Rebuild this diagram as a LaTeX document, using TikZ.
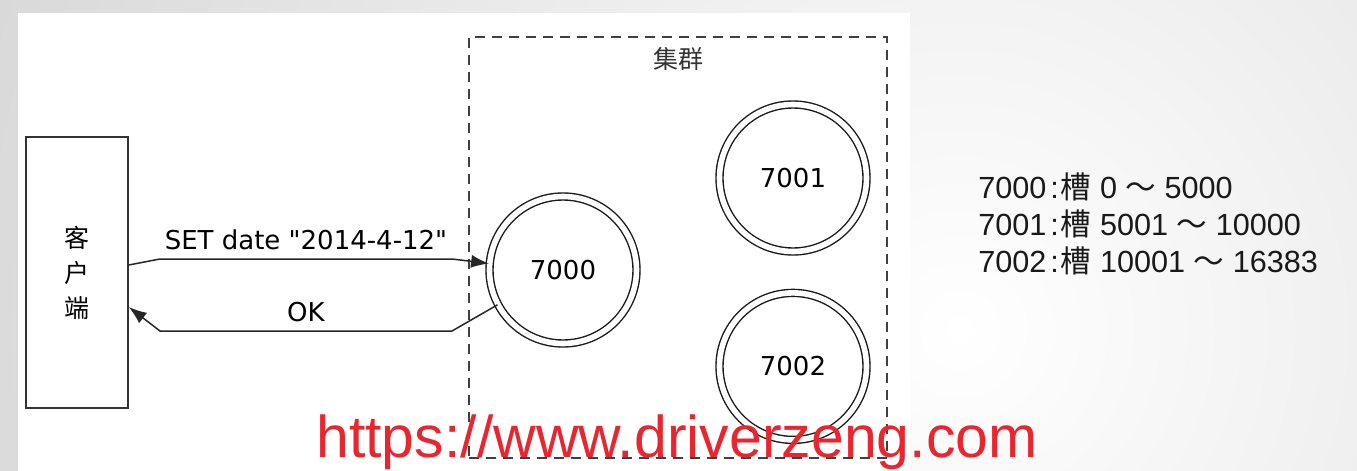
\documentclass[tikz,border=0pt]{standalone}
\usepackage{fontspec}
\setmainfont{DejaVu Sans}
\newfontfamily\cjk{Noto Sans CJK SC}
\newfontfamily\arial{Liberation Sans}
\usepackage{tikz}
\usetikzlibrary{positioning}
\usetikzlibrary{arrows.meta}
\definecolor{wmred}{RGB}{232,38,48}
\tikzset{server/.style={circle, draw=black!90, double, double distance=2.8pt, line width=0.7pt, minimum size=73.5pt, inner sep=0pt, font=\fontsize{13}{15}\selectfont}}
\tikzset{clientbox/.style={rectangle, draw=black!80, line width=0.75pt, minimum width=51pt, minimum height=135.5pt, align=center, font=\cjk\fontsize{12.5}{17.5}\selectfont}}
\tikzset{msg/.style={draw=black!85, line width=0.75pt, -{Latex[length=9pt,width=6.5pt]}}}

\begin{document}
\begin{tikzpicture}[x=0.5pt, y=-0.5pt]
\useasboundingbox (0,0) rectangle (1357,471);
% slide background
\begin{scope}
\clip (0,0) rectangle (1357,471);
\fill[black!10] (0,0) rectangle (1357,471);
\shade[inner color=white, outer color=black!22] (960,330) circle (1500);
\end{scope}
\fill[white] (18,13) rectangle (910,471);
% cluster
\node[draw=black!75, line width=0.7pt, dash pattern=on 5pt off 3.5pt, minimum width=209pt, minimum height=210.5pt] (cluster) at (678,247.5) {};
\node[font=\cjk\fontsize{12.5}{14}\selectfont, text=black!80] (clustername) at (678,59) {集群};
\node[server] (n7000) at (563,270) {7000};
\node[server] (n7001) at (793,178) {7001};
\node[server, below=20pt of n7001] (n7002) {7002};
% client
\node[clientbox] (client) at (77,272.5) {客\\户\\端};
\coordinate (setA) at (160,259);
\coordinate (setB) at (452,259);
\coordinate (okA) at (452,331);
\coordinate (okB) at (160,331);
\draw[msg] ([yshift=3.75pt]client.east) -- (setA) -- node[midway, above=1pt, font=\fontsize{13}{15}\selectfont] (setlabel) {SET date \textquotedbl 2014-4-12\textquotedbl} (setB) -- (n7000.175);
\draw[msg] (n7000.208) -- (okA) -- node[midway, above=1pt, font=\fontsize{13}{15}\selectfont] (oklabel) {OK} (okB) -- ([yshift=-17.25pt]client.east);
% slot table
\foreach \name/\lo/\hi [count=\i] in {7000/0/5000, 7001/5001/10000, 7002/10001/16383} {
\node[anchor=west, inner sep=0pt, font=\arial\fontsize{15.3}{18}\selectfont, text=black!90] (slot\i) at (978,150+37*\i) {\name\hspace{2pt}:\hspace{1pt}{\cjk 槽} \lo{} {\cjk ～} \hi};
}
% watermark
\node[font=\arial\fontsize{29.5}{30}\selectfont, text=wmred] (watermark) at (677,442) {https://www.driverzeng.com};
\end{tikzpicture}
\end{document}
